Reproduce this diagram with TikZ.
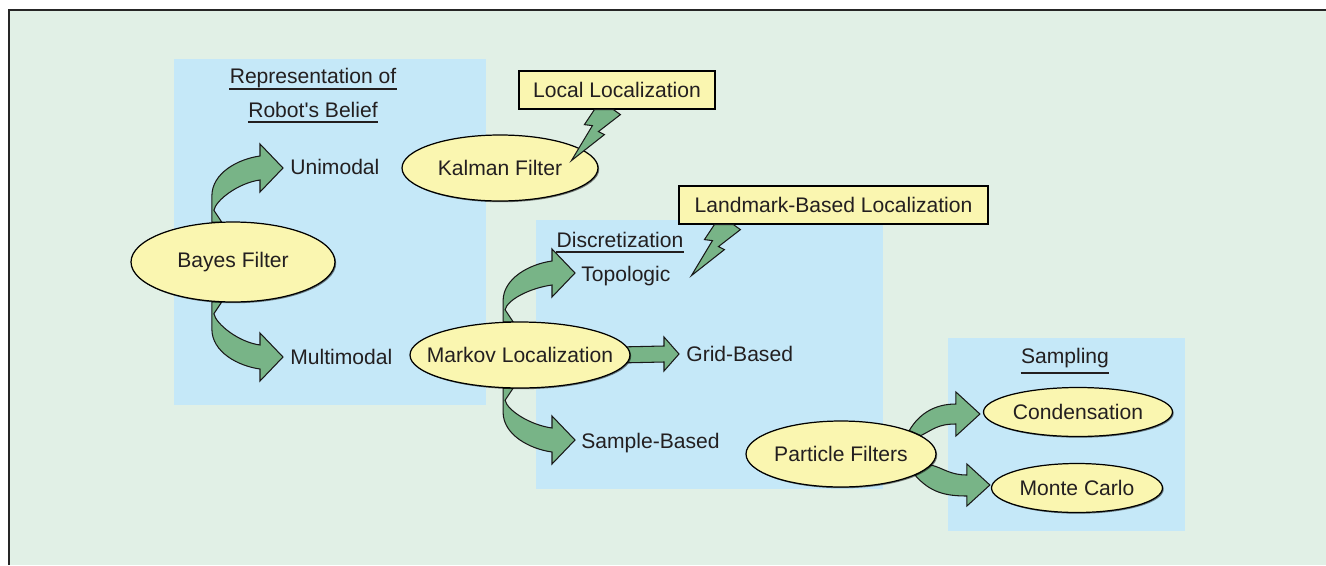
\documentclass[tikz,border=0pt]{standalone}
\usepackage{fontspec}
\setmainfont{Liberation Sans}
\usepackage{tikz}
\usetikzlibrary{calc,shapes.geometric,shadows}

\definecolor{bggreen}{HTML}{E1F0E6}
\definecolor{boxblue}{HTML}{C5E8F8}
\definecolor{ellyellow}{HTML}{FAF6B0}
\definecolor{arrgreen}{HTML}{78B487}
\definecolor{ink}{HTML}{231F20}

\pgfdeclarelayer{back}
\pgfdeclarelayer{mid}
\pgfsetlayers{back,mid,main}

\newcommand{\ct}[1]{\makebox[0pt]{#1}}
% fat bent arrow: start on ellipse, tip coordinate, 1 = bends up, -1 = bends down
\newcommand{\bendarrow}[3]{%
  \draw[fatarrow] (#1) -- ($(#1|-#2)+(0,{28*(#3)})$)
    .. controls ($(#1|-#2)+(0,{5*(#3)})$) and ($(#2)+(-45,{-9*(#3)})$) .. ($(#2)+(-23,{-12*(#3)})$)
    -- ($(#2)+(-23,{-24*(#3)})$) -- (#2) -- ($(#2)+(-23,{24*(#3)})$) -- ($(#2)+(-23,{12*(#3)})$)
    .. controls ($(#2)+(-45,{15*(#3)})$) and ($(#1)+(4,{-22*(#3)})$) .. ($(#1)+(2,{-12*(#3)})$)
    -- ($(#1)+(10,0)$) -- cycle;}

\begin{document}
\begin{tikzpicture}[x=0.02cm, y=-0.02cm,
    every node/.style={font=\fontsize{12}{14}\selectfont, text=ink},
    ell/.style={ellipse, draw=black, line width=0.7pt, fill=ellyellow, inner sep=0pt,
      drop shadow={shadow xshift=0.7pt, shadow yshift=-0.7pt, opacity=0.5, fill=black}},
    tagbox/.style={rectangle, draw=black, line width=0.7pt, fill=ellyellow,
      minimum height=0.76cm, inner sep=0pt},
    leaf/.style={anchor=base west, inner sep=0pt},
    heading/.style={anchor=base, inner sep=0pt},
    uline/.style={draw=ink, line width=0.6pt},
    fatarrow/.style={draw=black!90, fill=arrgreen, line width=0.6pt, line join=miter}]

    \useasboundingbox (0,0) rectangle (1326,565);

    % background and panels
    \begin{pgfonlayer}{back}
        \fill[bggreen] (9,10) rectangle (1326,565);
        \draw[black!85, line width=0.9pt] (9,565) -- (9,10) -- (1326,10);
        \fill[boxblue] (174,59) rectangle (486,405);
        \fill[boxblue] (536,220) rectangle (883,489);
        \fill[boxblue] (948,338) rectangle (1185,531);
    \end{pgfonlayer}

    % headings
    \node[heading] (rep) at (313,83) {Representation of};
    \node[heading] (rob) at (313,117) {Robot\textquotesingle s Belief};
    \node[heading] (disc) at (620,247) {Discretization};
    \node[heading] (samp) at (1065,363) {Sampling};
    \foreach \n/\d in {rep/6, rob/5, disc/5, samp/10}
        \draw[uline] ($(\n.base west)+(0,\d)$) -- ($(\n.base east)+(0,\d)$);

    % filters
    \node[ell, minimum width=4.08cm, minimum height=1.6cm] (bayes) at (233,262) {\ct{Bayes Filter}};
    \node[ell, minimum width=3.92cm, minimum height=1.32cm] (kalman) at (500,168) {\ct{Kalman Filter}};
    \node[ell, minimum width=4.4cm, minimum height=1.32cm] (markov) at (520,355) {\ct{Markov Localization}};
    \node[ell, minimum width=3.8cm, minimum height=1.32cm] (particle) at (841,454) {\ct{Particle Filters}};
    \node[ell, minimum width=3.78cm, minimum height=0.98cm] (cond) at (1078,412) {\ct{Condensation}};
    \node[ell, minimum width=3.42cm, minimum height=0.98cm] (mc) at (1077,488) {\ct{Monte Carlo}};

    % leaves
    \node[leaf] (uni) at (290,174) {Unimodal};
    \node[leaf] (multi) at (290,364) {Multimodal};
    \node[leaf] (topo) at (581,281) {Topologic};
    \node[leaf] (grid) at (686,361) {Grid-Based};
    \node[leaf] (sample) at (581,448) {Sample-Based};

    \node[tagbox, minimum width=3.92cm] (local) at (617,90) {Local Localization};
    \node[tagbox, minimum width=6.18cm] (landmark) at (833.5,205) {Landmark-Based Localization};

    % arrow tips
    \coordinate (tu) at ($(uni.base west)+(-7,-6)$);
    \coordinate (tmu) at ($(multi.base west)+(-7,-7)$);
    \coordinate (tt) at ($(topo.base west)+(-6,-8)$);
    \coordinate (ts) at ($(sample.base west)+(-6,-8)$);
    \coordinate (tg) at ($(grid.base west)+(-7,-7)$);
    \coordinate (tc) at ($(cond.west)+(-3,2)$);
    \coordinate (tmc) at ($(mc.west)+(-1,-3)$);

    \begin{pgfonlayer}{mid}
        \bendarrow{bayes.118}{tu}{1}
        \bendarrow{bayes.242}{tmu}{-1}
        \bendarrow{markov.117}{tt}{1}
        \bendarrow{markov.243}{ts}{-1}
        \draw[fatarrow] ($(markov.east)+(-12,-8)$) -- ($(tg)+(-15,-8)$) -- ($(tg)+(-15,-17)$) -- (tg)
            -- ($(tg)+(-15,17)$) -- ($(tg)+(-15,8)$) -- ($(markov.east)+(-12,8)$) -- cycle;
        \draw[fatarrow] (particle.19) .. controls ($(particle.19)+(10,-17)$) and ($(tc)+(-45,-10)$) .. ($(tc)+(-24,-10)$)
            -- ($(tc)+(-24,-22)$) -- (tc) -- ($(tc)+(-24,22)$) -- ($(tc)+(-24,10)$)
            .. controls ($(tc)+(-42,10)$) and ($(particle.13)+(12,-6)$) .. (particle.13) -- cycle;
        \draw[fatarrow] (particle.344) .. controls ($(particle.344)+(15,17)$) and ($(tmc)+(-45,11)$) .. ($(tmc)+(-23,11)$)
            -- ($(tmc)+(-23,21)$) -- (tmc) -- ($(tmc)+(-23,-21)$) -- ($(tmc)+(-23,-10)$)
            .. controls ($(tmc)+(-40,-10)$) and ($(particle.353)+(12,3)$) .. (particle.353) -- cycle;
    \end{pgfonlayer}

    % lightning bolts
    \draw[fatarrow] ($(local.south west)+(76,0)$) -- ++(-10,15) -- ++(8,1) -- ++(-21,35)
        -- ++(33,-26) -- ++(-6,-3) -- ++(22,-17) -- ++(-7,-5) -- cycle;
    \draw[fatarrow] ($(landmark.south west)+(36,0)$) -- ++(-10,15) -- ++(8,1) -- ++(-21,35)
        -- ++(33,-26) -- ++(-6,-3) -- ++(22,-17) -- ++(-7,-5) -- cycle;
\end{tikzpicture}
\end{document}
